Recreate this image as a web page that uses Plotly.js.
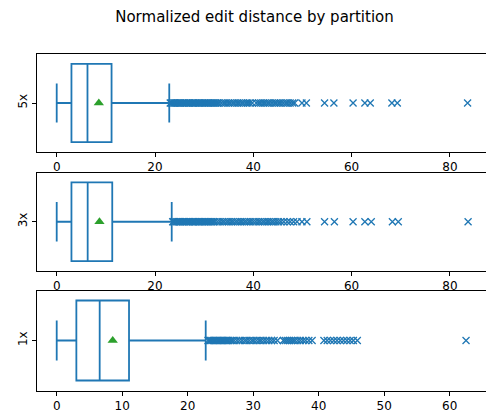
<!DOCTYPE html>
<html>
<head>
<meta charset="utf-8">
<script src="https://cdn.plot.ly/plotly-3.0.1.min.js"></script>
<style>html,body{margin:0;padding:0;overflow:hidden;background:#fff;}#chart{width:490px;height:412px;}</style>
</head>
<body>
<div id="chart"></div>
<script>
// Partitions (top to bottom)
const partitions = ["5x", "3x", "1x"];

// Box statistics
const q1Vals = [3.0, 3.0, 3.0];
const medianVals = [6.26, 6.3, 6.56];
const q3Vals = [11.16, 11.3, 11.04];
const lowerFenceVals = [0.0, 0.0, 0.0];
const upperFenceVals = [22.9, 23.4, 22.75];
const meanVals = [8.57, 8.7, 8.55];

// Outliers
const outliers5x = [23.1,23.3,23.5,23.8,24.0,24.2,24.5,24.7,25.0,25.2,25.5,25.7,26.0,26.3,26.5,26.8,27.0,27.3,27.6,27.8,28.1,28.3,28.6,28.9,29.1,29.4,29.7,30.0,30.2,30.5,30.8,31.0,31.3,31.6,31.9,32.1,32.4,32.7,33.0,
  33.5,34.0,34.4,34.9,35.3,35.8,36.2,36.7,37.1,37.6,38.0,38.5,38.9,39.3,39.8,40.6,41.1,41.5,42.0,42.4,42.9,43.3,43.8,44.3,44.7,45.2,45.6,46.1,46.6,47.0,47.5,48.0,48.4,
  49.9,50.8,54.5,56.4,60.3,62.7,63.8,68.2,69.3,83.6];
const outliers3x = [23.6,23.8,24.0,24.3,24.5,24.7,25.0,25.2,25.5,25.7,26.0,26.3,26.5,26.8,27.0,27.3,27.6,27.8,28.1,28.3,28.6,28.9,29.1,29.4,29.7,30.0,30.2,30.5,30.8,31.0,31.3,31.6,31.9,32.2,
  32.7,33.2,33.7,34.1,34.6,35.0,35.5,35.9,36.4,36.8,37.3,37.7,38.2,38.6,39.1,39.5,40.0,40.5,41.0,41.4,41.9,42.3,42.8,43.2,43.7,44.1,44.6,45.1,45.6,46.2,46.9,47.5,48.2,48.9,
  49.9,50.9,54.5,56.5,60.3,62.7,64.0,68.3,69.5,83.7];
const outliers1x = [23.1,23.3,23.5,23.7,23.9,24.1,24.3,24.5,24.7,24.9,25.1,25.3,25.5,25.7,25.9,26.1,26.3,26.6,26.8,27.1,
  27.5,27.9,28.3,28.7,29.0,29.4,29.8,30.1,30.5,30.9,31.2,31.6,32.0,32.4,32.8,33.2,33.7,
  34.6,34.9,35.2,35.5,35.8,36.1,36.4,36.8,37.2,37.6,38.0,38.5,39.0,
  40.8,41.3,41.8,42.3,42.8,43.3,43.8,44.3,44.8,45.3,45.9,
  62.5];
const outlierSets = [outliers5x, outliers3x, outliers1x];

// Axis ticks
const xTicksTop = [0, 20, 40, 60, 80];
const xTicksBottom = [0, 10, 20, 30, 40, 50, 60];

const blue = '#1f77b4';
const green = '#2ca02c';
const axSuffix = ['', '2', '3'];
const traces = [];
for (let i = 0; i < 3; i++) {
  const xa = 'x' + axSuffix[i], ya = 'y' + axSuffix[i];
  traces.push({
    type: 'box', orientation: 'h', y: [0],
    q1: [q1Vals[i]], median: [medianVals[i]], q3: [q3Vals[i]],
    lowerfence: [lowerFenceVals[i]], upperfence: [upperFenceVals[i]],
    width: 0.8, whiskerwidth: 0.5, boxpoints: false,
    fillcolor: 'rgba(255,255,255,0)', line: {color: blue, width: 1.8},
    xaxis: xa, yaxis: ya, showlegend: false, hoverinfo: 'skip'
  });
  traces.push({
    type: 'scatter', mode: 'markers', x: outlierSets[i], y: outlierSets[i].map(() => 0),
    marker: {symbol: 'x-thin', size: 7, line: {color: blue, width: 1.3}, color: blue},
    xaxis: xa, yaxis: ya, showlegend: false, hoverinfo: 'skip'
  });
  traces.push({
    type: 'scatter', mode: 'markers', x: [meanVals[i]], y: [0],
    marker: {symbol: 'triangle-up', size: 9, color: green},
    xaxis: xa, yaxis: ya, showlegend: false, hoverinfo: 'skip'
  });
}

const font = {family: 'DejaVu Sans', size: 12, color: '#000'};
function xAxis(anchor, range, ticks) {
  return {anchor: anchor, domain: [0, 1], range: range, tickvals: ticks, ticktext: ticks.map(String),
    showline: true, mirror: true, linecolor: '#000', linewidth: 1, ticks: 'outside', ticklen: 4,
    tickwidth: 1, tickcolor: '#000', showgrid: false, zeroline: false, tickfont: font, automargin: false, fixedrange: true};
}
function yAxis(anchor, domain, label) {
  return {anchor: anchor, domain: domain, range: [-0.5, 0.5], tickvals: [0], ticktext: [label], tickangle: -90,
    showline: true, mirror: true, linecolor: '#000', linewidth: 1, ticks: 'outside', ticklen: 4,
    tickwidth: 1, tickcolor: '#000', showgrid: false, zeroline: false, tickfont: font, automargin: false, fixedrange: true};
}
const H = 412;
const layout = {
  width: 490, height: H,
  margin: {l: 37, r: 3, t: 0, b: 0},
  paper_bgcolor: '#fff', plot_bgcolor: '#fff',
  title: {text: 'Normalized edit distance by partition', font: {family: 'DejaVu Sans', size: 15, color: '#000'},
    xref: 'container', x: 254.5 / 490, xanchor: 'center', yref: 'container', y: 1 - 17 / H, yanchor: 'middle'},
  xaxis: xAxis('y', [-4.01, 87.55], xTicksTop),
  yaxis: yAxis('x', [1 - 152 / H, 1 - 54 / H], partitions[0]),
  xaxis2: xAxis('y2', [-4.01, 87.55], xTicksTop),
  yaxis2: yAxis('x2', [1 - 271 / H, 1 - 172.5 / H], partitions[1]),
  xaxis3: xAxis('y3', [-3.01, 65.7], xTicksBottom),
  yaxis3: yAxis('x3', [1 - 390.5 / H, 1 - 290.5 / H], partitions[2]),
  showlegend: false
};
Plotly.newPlot('chart', traces, layout, {displayModeBar: false, staticPlot: true});
</script>
</body>
</html>
